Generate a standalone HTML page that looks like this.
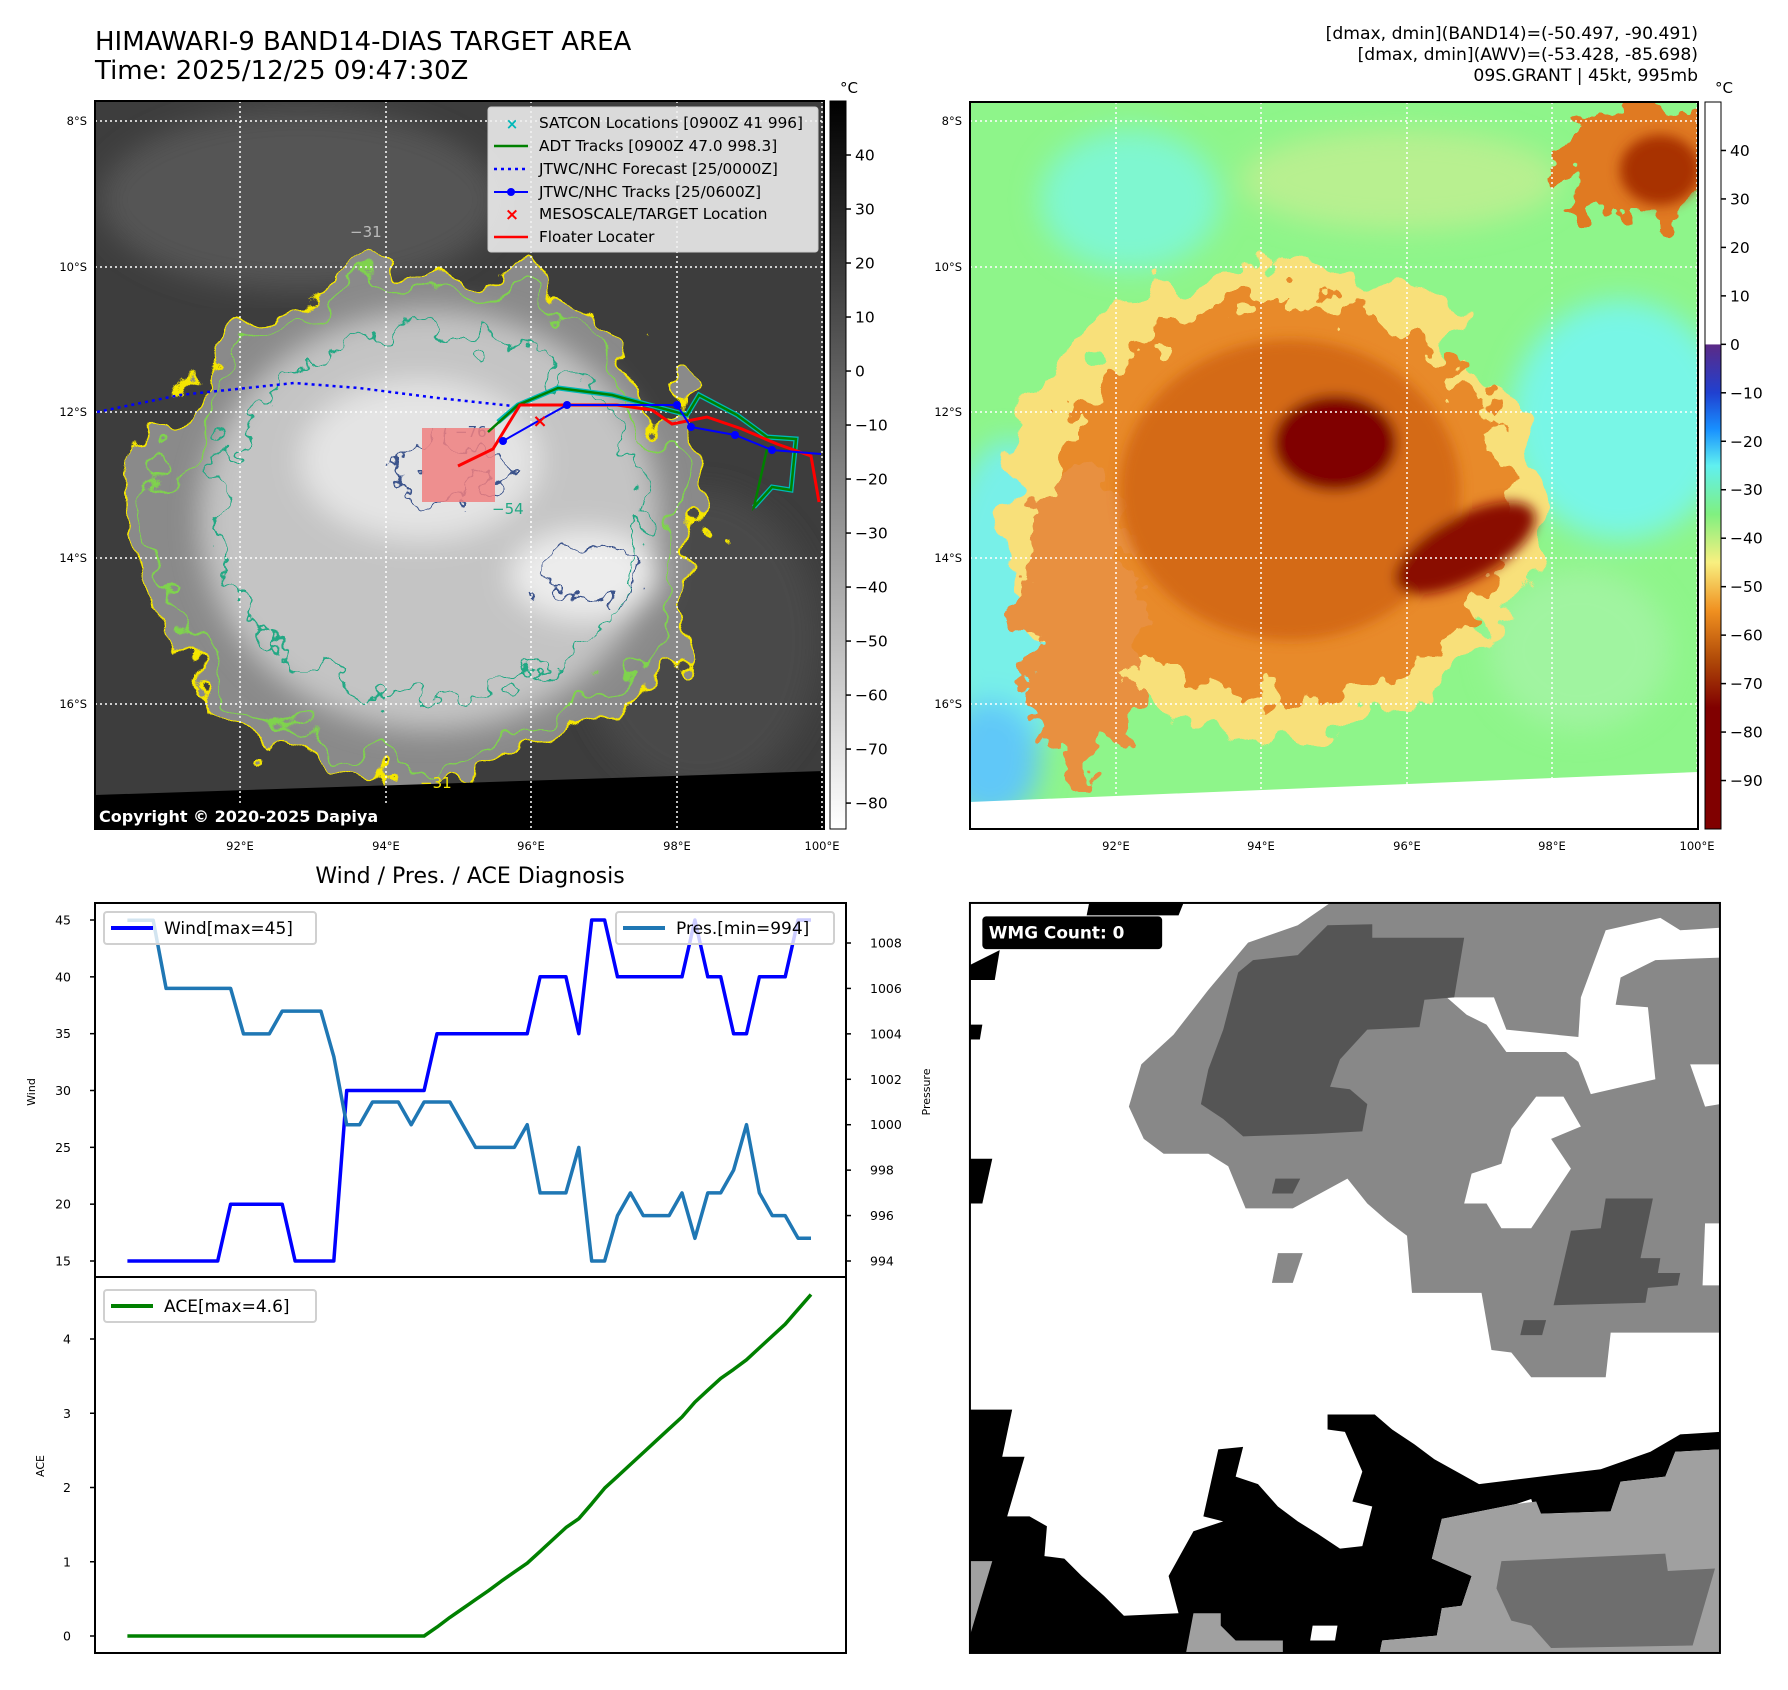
<!DOCTYPE html>
<html><head><meta charset="utf-8">
<style>
html,body{margin:0;padding:0;background:#fff;}
body{width:1788px;height:1690px;position:relative;overflow:hidden;font-family:"DejaVu Sans","Liberation Sans",sans-serif;}
svg{position:absolute;left:0;top:0;}
</style></head>
<body>
<svg id="root" width="1788" height="1690" viewBox="0 0 1788 1690" xmlns="http://www.w3.org/2000/svg">
<defs>
  <filter id="rough" x="-20%" y="-20%" width="140%" height="140%"><feTurbulence type="fractalNoise" baseFrequency="0.018" numOctaves="3" seed="4"/><feDisplacementMap in="SourceGraphic" scale="110" xChannelSelector="R" yChannelSelector="G"/></filter>
  <filter id="rough2" x="-20%" y="-20%" width="140%" height="140%"><feTurbulence type="fractalNoise" baseFrequency="0.035" numOctaves="3" seed="9"/><feDisplacementMap in="SourceGraphic" scale="80" xChannelSelector="R" yChannelSelector="G"/></filter>
  <filter id="soft"><feGaussianBlur stdDeviation="14"/></filter>
  <filter id="soft2"><feGaussianBlur stdDeviation="6"/></filter>
  <clipPath id="clipL"><rect x="95" y="101" width="729" height="728"/></clipPath>
  <clipPath id="clipR"><rect x="970" y="102" width="728" height="727"/></clipPath>
  <linearGradient id="grayBar" x1="0" y1="0" x2="0" y2="1"><stop offset="0" stop-color="#000"/><stop offset="1" stop-color="#fff"/></linearGradient>
  <linearGradient id="jetBar" x1="0" y1="0" x2="0" y2="1">
    <stop offset="0" stop-color="#fff"/><stop offset="0.333" stop-color="#fff"/>
    <stop offset="0.334" stop-color="#5b2a86"/><stop offset="0.4" stop-color="#2040d0"/>
    <stop offset="0.45" stop-color="#1890ff"/><stop offset="0.5" stop-color="#60f0f0"/>
    <stop offset="0.567" stop-color="#80f080"/><stop offset="0.633" stop-color="#f8f080"/>
    <stop offset="0.7" stop-color="#f09020"/><stop offset="0.767" stop-color="#b04a08"/>
    <stop offset="0.833" stop-color="#800000"/><stop offset="1" stop-color="#800000"/>
  </linearGradient>
</defs>

<!-- Titles -->
<text x="95" y="50" font-size="26" fill="#000">HIMAWARI-9 BAND14-DIAS TARGET AREA</text>
<text x="95" y="79" font-size="26" fill="#000">Time: 2025/12/25 09:47:30Z</text>
<g font-size="17.2" text-anchor="end" fill="#000">
<text x="1698" y="39">[dmax, dmin](BAND14)=(-50.497, -90.491)</text>
<text x="1698" y="60">[dmax, dmin](AWV)=(-53.428, -85.698)</text>
<text x="1698" y="81">09S.GRANT | 45kt, 995mb</text>
</g>

<!-- LEFT IR MAP -->
<g clip-path="url(#clipL)">
  <rect x="95" y="101" width="729" height="728" fill="#3d3d3d"/>
  <ellipse cx="300" cy="200" rx="200" ry="90" fill="#555" filter="url(#soft)"/>
  <ellipse cx="700" cy="640" rx="120" ry="150" fill="#4a4a4a" filter="url(#soft)"/>
  <g filter="url(#rough)">
    <ellipse cx="420" cy="525" rx="285" ry="255" fill="#8a8a8a"/>
  </g>
  <g filter="url(#soft)">
    <ellipse cx="430" cy="520" rx="230" ry="210" fill="#c4c4c4"/>
    <ellipse cx="420" cy="460" rx="120" ry="80" fill="#e4e4e4"/>
    <ellipse cx="585" cy="575" rx="75" ry="45" fill="#ececec"/>
  </g>
  <g fill="none" stroke-width="2.5">
    <ellipse cx="420" cy="525" rx="285" ry="255" stroke="#f5e600" filter="url(#rough)"/>
    <ellipse cx="420" cy="525" rx="262" ry="235" stroke="#7fd34e" filter="url(#rough)"/>
    <ellipse cx="430" cy="515" rx="215" ry="185" stroke="#22a884" filter="url(#rough2)"/>
    <ellipse cx="445" cy="470" rx="55" ry="30" stroke="#3b528b" filter="url(#rough2)"/>
    <ellipse cx="590" cy="575" rx="55" ry="25" stroke="#3b528b" filter="url(#rough2)"/>
  </g>
  <polygon points="95,795 824,771 824,829 95,829" fill="#000"/>
  <g stroke="#fff" stroke-width="1.5" stroke-dasharray="2,3">
    <line x1="240" y1="101" x2="240" y2="829"/><line x1="386" y1="101" x2="386" y2="829"/>
    <line x1="531" y1="101" x2="531" y2="829"/><line x1="677" y1="101" x2="677" y2="829"/><line x1="822" y1="101" x2="822" y2="829"/>
    <line x1="95" y1="121" x2="824" y2="121"/><line x1="95" y1="267" x2="824" y2="267"/>
    <line x1="95" y1="412" x2="824" y2="412"/><line x1="95" y1="558" x2="824" y2="558"/><line x1="95" y1="704" x2="824" y2="704"/>
  </g>
  <g font-size="15" fill="#bbb">
    <text x="350" y="237">−31</text><text x="492" y="514" fill="#22a884">−54</text><text x="455" y="437" fill="#3b528b">−76</text><text x="420" y="788" fill="#f5e600">−31</text>
  </g>
  <rect x="422" y="428" width="73" height="74" fill="#f08080" opacity="0.85"/>
  <polyline points="97,412 180,395 294,383 359,388 438,398 513,406" fill="none" stroke="#0000ff" stroke-width="2.5" stroke-dasharray="3,4"/>
  <polyline points="498,422 518,405 558,388 612,395 687,415 699,395 737,415 767,437 796,439 791,490 772,487 754,507" fill="none" stroke="#00b8b8" stroke-width="5"/>
  <polyline points="488,432 518,405 558,388 612,395 687,415 699,395 737,415 767,437 796,439 791,490 772,487 754,507 767,449" fill="none" stroke="#008000" stroke-width="2.5"/>
  <polyline points="458,466 493,449 520,405 617,405 652,410 672,424 707,417 742,429 777,444 811,456 819,502" fill="none" stroke="#ff0000" stroke-width="3"/>
  <g>
    <polyline points="503,441 540,420 567,405 677,405 691,427 735,435 772,450 821,454" fill="none" stroke="#0000ff" stroke-width="2"/>
    <g fill="#0000ff"><circle cx="503" cy="441" r="4"/><circle cx="567" cy="405" r="4"/><circle cx="677" cy="405" r="4"/><circle cx="691" cy="427" r="4"/><circle cx="735" cy="435" r="4"/><circle cx="772" cy="450" r="4"/></g>
  </g>
  <text x="540" y="427" font-size="18" font-weight="bold" fill="#ff0000" text-anchor="middle">×</text>
  <rect x="95" y="804" width="309" height="25" fill="#000"/>
  <text x="99" y="822" font-size="16" font-weight="bold" fill="#fff">Copyright © 2020-2025 Dapiya</text>
</g>
<rect x="95" y="101" width="729" height="728" fill="none" stroke="#000" stroke-width="2"/>
<!-- legend -->
<g>
  <rect x="488" y="107" width="330" height="145" rx="3" fill="#f0f0f0" fill-opacity="0.88" stroke="#ccc"/>
  <g font-size="15.3" fill="#000">
    <text x="539" y="128">SATCON Locations [0900Z 41 996]</text>
    <text x="539" y="151">ADT Tracks [0900Z 47.0 998.3]</text>
    <text x="539" y="174">JTWC/NHC Forecast [25/0000Z]</text>
    <text x="539" y="197">JTWC/NHC Tracks [25/0600Z]</text>
    <text x="539" y="219">MESOSCALE/TARGET Location</text>
    <text x="539" y="242">Floater Locater</text>
  </g>
  <text x="512" y="129" font-size="15" font-weight="bold" fill="#00b8b8" text-anchor="middle">×</text>
  <line x1="494" y1="146" x2="528" y2="146" stroke="#008000" stroke-width="2.5"/>
  <line x1="494" y1="169" x2="528" y2="169" stroke="#0000ff" stroke-width="2.5" stroke-dasharray="3,4"/>
  <line x1="494" y1="192" x2="528" y2="192" stroke="#0000ff" stroke-width="2"/><circle cx="511" cy="192" r="4" fill="#0000ff"/>
  <text x="512" y="220" font-size="17" font-weight="bold" fill="#ff0000" text-anchor="middle">×</text>
  <line x1="494" y1="237" x2="528" y2="237" stroke="#ff0000" stroke-width="2.5"/>
</g>
<!-- left colorbar -->
<g>
  <rect x="830" y="101" width="16" height="728" fill="url(#grayBar)" stroke="#000" stroke-width="1"/>
  <text x="840" y="93" font-size="15">°C</text>
  <g id="cbL" font-size="15.5"></g>
</g>
<!-- left axis tick labels -->
<g font-size="11.5" fill="#000">
  <g text-anchor="end"><text x="87" y="125">8°S</text><text x="87" y="271">10°S</text><text x="87" y="416">12°S</text><text x="87" y="562">14°S</text><text x="87" y="708">16°S</text></g>
  <g text-anchor="middle"><text x="240" y="850">92°E</text><text x="386" y="850">94°E</text><text x="531" y="850">96°E</text><text x="677" y="850">98°E</text><text x="822" y="850">100°E</text></g>
</g>

<!-- RIGHT AWV MAP -->
<g clip-path="url(#clipR)">
  <rect x="970" y="102" width="728" height="727" fill="#8ef58a"/>
  <g filter="url(#soft)">
    <ellipse cx="1130" cy="200" rx="90" ry="70" fill="#7ff7d0"/>
    <ellipse cx="1620" cy="420" rx="110" ry="120" fill="#78f6e6"/>
    <ellipse cx="1010" cy="600" rx="70" ry="160" fill="#78f0e8"/>
    <ellipse cx="990" cy="760" rx="50" ry="60" fill="#60c8f8"/>
    <ellipse cx="1580" cy="650" rx="90" ry="80" fill="#a0f4a0"/>
    <ellipse cx="1400" cy="180" rx="160" ry="50" fill="#b8f090"/>
  </g>
  <g filter="url(#rough)"><ellipse cx="1270" cy="500" rx="265" ry="235" fill="#f8e07a"/></g>
  <g filter="url(#rough2)">
    <ellipse cx="1285" cy="500" rx="225" ry="200" fill="#e88a2a"/>
    <ellipse cx="1640" cy="160" rx="75" ry="60" fill="#e07a20"/>
    <ellipse cx="1080" cy="620" rx="60" ry="150" fill="#e89040"/>
  </g>
  <g filter="url(#soft2)">
    <ellipse cx="1290" cy="490" rx="170" ry="150" fill="#d46a14"/>
    <ellipse cx="1335" cy="443" rx="62" ry="48" fill="#800000"/>
    <ellipse cx="1465" cy="548" rx="78" ry="32" fill="#8a1000" transform="rotate(-28 1465 548)"/>
    <ellipse cx="1660" cy="170" rx="40" ry="35" fill="#a83000"/>
  </g>
  <polygon points="970,802 1698,772 1698,829 970,829" fill="#fff"/>
  <g stroke="#fff" stroke-width="1.5" stroke-dasharray="2,3">
    <line x1="1116" y1="102" x2="1116" y2="829"/><line x1="1261" y1="102" x2="1261" y2="829"/>
    <line x1="1407" y1="102" x2="1407" y2="829"/><line x1="1552" y1="102" x2="1552" y2="829"/><line x1="1697" y1="102" x2="1697" y2="829"/>
    <line x1="970" y1="121" x2="1698" y2="121"/><line x1="970" y1="267" x2="1698" y2="267"/>
    <line x1="970" y1="412" x2="1698" y2="412"/><line x1="970" y1="558" x2="1698" y2="558"/><line x1="970" y1="704" x2="1698" y2="704"/>
  </g>
</g>
<rect x="970" y="102" width="728" height="727" fill="none" stroke="#000" stroke-width="2"/>
<g>
  <rect x="1705" y="102" width="16" height="727" fill="url(#jetBar)" stroke="#000" stroke-width="1"/>
  <text x="1715" y="93" font-size="15">°C</text>
  <g id="cbR" font-size="15.5"></g>
</g>
<g font-size="11.5" fill="#000">
  <g text-anchor="end"><text x="962" y="125">8°S</text><text x="962" y="271">10°S</text><text x="962" y="416">12°S</text><text x="962" y="562">14°S</text><text x="962" y="708">16°S</text></g>
  <g text-anchor="middle"><text x="1116" y="850">92°E</text><text x="1261" y="850">94°E</text><text x="1407" y="850">96°E</text><text x="1552" y="850">98°E</text><text x="1697" y="850">100°E</text></g>
</g>

<!-- DIAGNOSIS CHART -->
<text x="470" y="883" font-size="22" text-anchor="middle">Wind / Pres. / ACE Diagnosis</text>
<g id="diag"></g>

<!-- WMG PANEL -->
<g transform="translate(960,880.6) scale(0.4967)">
  <rect x="20" y="45" width="1510" height="1510" fill="#fff"/>
  <polygon fill="#888" points="745,45 1530,45 1530,910 1310,910 1300,1000 1150,1000 1110,950 1070,945 1050,830 910,830 900,715 860,685 820,650 780,600 670,660 575,660 540,575 500,550 410,550 370,520 340,455 365,370 430,310 500,220 580,125 680,90"/>
  <polygon fill="#fff" points="980,235 1075,235 1100,300 1245,315 1250,235 1300,100 1410,75 1450,100 1530,95 1530,155 1400,160 1330,195 1320,250 1385,255 1400,400 1270,430 1245,365 1220,345 1100,345 1060,290 1020,270"/>
  <polygon fill="#fff" points="1470,370 1530,370 1530,450 1500,455"/>
  <polygon fill="#fff" points="1160,435 1215,435 1250,495 1190,520 1230,580 1190,640 1150,700 1090,700 1060,650 1015,650 1030,590 1090,570 1110,500"/>
  <polygon fill="#fff" points="1500,690 1530,690 1530,815 1495,815"/>
  <polygon fill="#555" points="590,160 680,150 740,90 830,88 830,115 1015,115 995,235 935,240 925,295 820,300 765,360 745,415 785,420 820,450 810,505 715,510 570,515 530,480 485,450 500,380 530,300 560,185"/>
  <polygon fill="#555" points="1300,640 1395,640 1370,760 1410,760 1405,790 1450,790 1445,815 1385,820 1380,850 1195,855 1230,705 1290,700"/>
  <polygon fill="#555" points="635,600 685,600 670,630 628,630"/>
  <polygon fill="#555" points="1135,885 1180,885 1172,915 1128,915"/>
  <polygon fill="#888" points="640,750 690,750 670,810 628,810"/>
  <polygon fill="#000" points="20,1065 105,1065 85,1160 130,1160 95,1280 140,1280 175,1300 170,1360 210,1365 245,1400 290,1440 330,1480 440,1475 420,1400 470,1310 530,1290 490,1280 520,1145 570,1140 555,1200 600,1215 640,1260 680,1290 720,1315 765,1345 810,1340 830,1260 790,1250 810,1190 775,1110 740,1105 740,1075 835,1075 870,1105 915,1135 955,1165 1045,1215 1290,1185 1390,1150 1450,1115 1530,1110 1530,1145 1440,1150 1420,1200 1330,1210 1310,1270 1160,1275 1150,1245 1120,1255 970,1285 950,1365 1030,1400 1010,1460 970,1465 960,1520 850,1530 845,1555 20,1555"/>
  <polygon fill="#a0a0a0" points="970,1285 1120,1255 1160,1250 1170,1275 1310,1270 1330,1210 1420,1200 1440,1150 1530,1145 1530,1555 845,1555 850,1530 960,1520 970,1465 1010,1460 1030,1400 950,1365"/>
  <polygon fill="#6e6e6e" points="1090,1370 1420,1355 1425,1390 1520,1385 1475,1540 1190,1545 1150,1500 1110,1490 1080,1425"/>
  <polygon fill="#a0a0a0" points="470,1475 525,1475 525,1500 555,1530 650,1530 650,1555 455,1555"/>
  <polygon fill="#fff" points="710,1500 760,1500 755,1530 705,1530"/>
  <polygon fill="#a0a0a0" points="20,1370 65,1370 20,1520"/>
  <polygon fill="#000" points="20,170 80,140 70,200 20,200"/>
  <polygon fill="#000" points="20,290 45,290 40,320 20,320"/>
  <polygon fill="#000" points="20,560 65,560 45,650 20,650"/>
  <polygon fill="#000" points="260,45 450,45 440,70 255,70"/>
  <rect x="20" y="45" width="1510" height="1510" fill="none" stroke="#000" stroke-width="4"/>
  <rect x="45" y="72" width="362" height="66" rx="8" fill="#000"/>
  <text x="58" y="117" font-size="34" font-weight="bold" fill="#fff">WMG Count: 0</text>
</g>
</svg>

<script>
// ---- colorbar tick data ----
const irTicks = [40, 30, 20, 10, 0, -10, -20, -30, -40, -50, -60, -70, -80];
const awvTicks = [40, 30, 20, 10, 0, -10, -20, -30, -40, -50, -60, -70, -80, -90];

// ---- diagnosis chart data ----
const wind = [15,15,15,15,15,15,15,15,20,20,20,20,20,15,15,15,15,30,30,30,30,30,30,30,35,35,35,35,35,35,35,35,40,40,40,35,45,45,40,40,40,40,40,40,45,40,40,35,35,40,40,40,45,45];
const pres = [1009,1009,1009,1006,1006,1006,1006,1006,1006,1004,1004,1004,1005,1005,1005,1005,1003,1000,1000,1001,1001,1001,1000,1001,1001,1001,1000,999,999,999,999,1000,997,997,997,999,994,994,996,997,996,996,996,997,995,997,997,998,1000,997,996,996,995,995];
const ace = [0,0,0,0,0,0,0,0,0,0,0,0,0,0,0,0,0,0,0,0,0,0,0,0,0.12,0.25,0.37,0.49,0.61,0.74,0.86,0.98,1.14,1.30,1.46,1.58,1.78,1.99,2.15,2.31,2.47,2.63,2.79,2.95,3.15,3.31,3.47,3.59,3.72,3.88,4.04,4.20,4.40,4.60];
const windTicks = [15,20,25,30,35,40,45];
const presTicks = [994,996,998,1000,1002,1004,1006,1008];
const aceTicks = [0,1,2,3,4];

const NS = 'http://www.w3.org/2000/svg';
function mk(tag, attrs, parent) {
  const e = document.createElementNS(NS, tag);
  for (const k in attrs) e.setAttribute(k, attrs[k]);
  parent.appendChild(e);
  return e;
}

// colorbars
const cbL = document.getElementById('cbL');
const yIR = v => 101 + (50 - v) / (50 - (-84.8)) * 728;
irTicks.forEach(v => {
  const y = yIR(v);
  const tk = mk('line', {x1: 846, x2: 851, y1: y, y2: y, stroke: '#000', 'stroke-width': 1.5}, cbL);
  
  
  const t = mk('text', {x: 855, y: y + 5.5}, cbL);
  t.textContent = (v < 0 ? '\u2212' + (-v) : String(v));
  
  
});
const cbR = document.getElementById('cbR');
const yAWV = v => 102 + (50 - v) / 150 * 727;
awvTicks.forEach(v => {
  const y = yAWV(v);
  const tk = mk('line', {x1: 1721, x2: 1726, y1: y, y2: y, stroke: '#000', 'stroke-width': 1.5}, cbR);
  
  
  const t = mk('text', {x: 1730, y: y + 5.5}, cbR);
  t.textContent = (v < 0 ? '\u2212' + (-v) : String(v));
  
  
});

// diagnosis chart
const g = document.getElementById('diag');
const L = 95, R = 846, T1 = 903, B1 = 1277, B2 = 1653;
const xS = i => 127.4 + i * (811 - 127.4) / 53;
const yW = v => 1261 - (v - 15) / 30 * (1261 - 920);
const yP = v => 1261 - (v - 994) / 14 * (1261 - 943);
const yA = v => 1636 - v / 4 * (1636 - 1339);

function line(arr, fx, fy, color, w, name) {
  const pts = arr.map((v, i) => fx(i).toFixed(1) + ',' + fy(v).toFixed(1)).join(' ');
  const p = mk('polyline', {points: pts, fill: 'none', stroke: color, 'stroke-width': w, 'stroke-linejoin': 'round'}, g);
  
  
}
line(wind, xS, yW, '#0000ff', 3.5, 'wind-line');
line(pres, xS, yP, '#1f77b4', 3.5, 'pressure-line');
line(ace, xS, yA, '#008000', 3.5, 'ace-line');

function frame(y1, y2, name) {
  const r = mk('rect', {x: L, y: y1, width: R - L, height: y2 - y1, fill: 'none', stroke: '#000', 'stroke-width': 2}, g);
  
  
}
frame(T1, B1, 'wind-pressure-axes');
frame(B1, B2, 'ace-axes');

windTicks.forEach(v => {
  const y = yW(v);
  const tk = mk('line', {x1: L - 5, x2: L, y1: y, y2: y, stroke: '#000', 'stroke-width': 1.5}, g);
  
  
  const t = mk('text', {x: L - 24, y: y + 4.5, 'font-size': 12.5, 'text-anchor': 'end'}, g);
  t.textContent = v;
  
  
});
presTicks.forEach(v => {
  const y = yP(v);
  const tk = mk('line', {x1: R, x2: R + 5, y1: y, y2: y, stroke: '#000', 'stroke-width': 1.5}, g);
  
  
  const t = mk('text', {x: R + 24, y: y + 4.5, 'font-size': 12.5}, g);
  t.textContent = v;
  
  
});
aceTicks.forEach(v => {
  const y = yA(v);
  const tk = mk('line', {x1: L - 5, x2: L, y1: y, y2: y, stroke: '#000', 'stroke-width': 1.5}, g);
  
  
  const t = mk('text', {x: L - 24, y: y + 4.5, 'font-size': 12.5, 'text-anchor': 'end'}, g);
  t.textContent = v;
  
  
});

function ylabel(x, y, txt, name) {
  const t = mk('text', {x: x, y: y, 'font-size': 11, 'text-anchor': 'middle', transform: 'rotate(-90 ' + x + ' ' + y + ')'}, g);
  t.textContent = txt;
  
  
}
ylabel(35, 1092, 'Wind', 'wind-axis-title');
ylabel(930, 1092, 'Pressure', 'pressure-axis-title');
ylabel(44, 1466, 'ACE', 'ace-axis-title');

function legend(x, y, w, color, txt, name) {
  const lg = mk('g', {}, g);
  
  
  mk('rect', {x: x, y: y, width: w, height: 32, rx: 3, fill: '#fff', 'fill-opacity': 0.8, stroke: '#d0d0d0', 'stroke-width': 2}, lg);
  mk('line', {x1: x + 7, x2: x + 49, y1: y + 16, y2: y + 16, stroke: color, 'stroke-width': 4}, lg);
  const t = mk('text', {x: x + 60, y: y + 22, 'font-size': 17}, lg);
  t.textContent = txt;
}
legend(104, 912, 212, '#0000ff', 'Wind[max=45]', 'wind-legend');
legend(616, 912, 218, '#1f77b4', 'Pres.[min=994]', 'pressure-legend');
legend(104, 1290, 212, '#008000', 'ACE[max=4.6]', 'ace-legend');
</script>
</body></html>
